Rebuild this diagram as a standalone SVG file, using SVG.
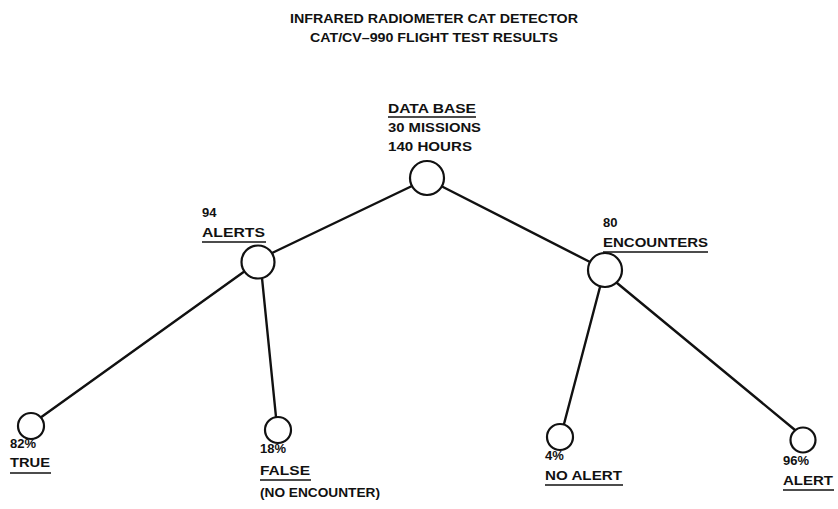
<svg xmlns="http://www.w3.org/2000/svg" width="838" height="509" viewBox="0 0 838 509">
<style>
text{font-family:"Liberation Sans",Arial,sans-serif;font-weight:bold;font-size:13px;fill:#111}
.n circle{fill:#fff;stroke:#111;stroke-width:2.2}
.c line{stroke:#111;stroke-width:2.4;stroke-linecap:round}
.u{stroke:#111;stroke-width:1.6}
</style>
<rect width="838" height="509" fill="#fff"/>
<g id="title">
<text x="434" y="23" text-anchor="middle" textLength="288" lengthAdjust="spacingAndGlyphs">INFRARED RADIOMETER CAT DETECTOR</text>
<text x="434" y="42" text-anchor="middle" textLength="248" lengthAdjust="spacingAndGlyphs">CAT/CV–990 FLIGHT TEST RESULTS</text>
</g>
<g class="c" id="connectors">
<line x1="412" y1="186" x2="272" y2="253"/>
<line x1="443" y1="187" x2="590" y2="262"/>
<line x1="245" y1="271" x2="40" y2="418"/>
<line x1="262" y1="278" x2="276" y2="417"/>
<line x1="600" y1="287" x2="564" y2="424"/>
<line x1="617" y1="283" x2="795" y2="430"/>
</g>
<g class="n" id="database">
<circle cx="427" cy="178" r="17"/>
<text x="388" y="113" textLength="88" lengthAdjust="spacingAndGlyphs">DATA BASE</text>
<line class="u" x1="388" y1="117" x2="476" y2="117"/>
<text x="388" y="132" textLength="93" lengthAdjust="spacingAndGlyphs">30 MISSIONS</text>
<text x="388" y="151" textLength="84" lengthAdjust="spacingAndGlyphs">140 HOURS</text>
</g>
<g class="n" id="alerts">
<circle cx="258" cy="262" r="16.5"/>
<text x="202" y="217">94</text>
<text x="202" y="237" textLength="63" lengthAdjust="spacingAndGlyphs">ALERTS</text>
<line class="u" x1="202" y1="242" x2="266" y2="242"/>
</g>
<g class="n" id="encounters">
<circle cx="605" cy="270" r="17"/>
<text x="603" y="227">80</text>
<text x="603" y="247" textLength="105" lengthAdjust="spacingAndGlyphs">ENCOUNTERS</text>
<line class="u" x1="603" y1="252" x2="708" y2="252"/>
</g>
<g class="n" id="true">
<circle cx="31" cy="426" r="13"/>
<text x="10" y="448">82%</text>
<text x="10" y="467" textLength="40" lengthAdjust="spacingAndGlyphs">TRUE</text>
<line class="u" x1="10" y1="473" x2="51" y2="473"/>
</g>
<g class="n" id="false">
<circle cx="278" cy="430" r="13"/>
<text x="260" y="453">18%</text>
<text x="260" y="475" textLength="50" lengthAdjust="spacingAndGlyphs">FALSE</text>
<line class="u" x1="260" y1="480" x2="311" y2="480"/>
<text x="260" y="497" textLength="120" lengthAdjust="spacingAndGlyphs">(NO ENCOUNTER)</text>
</g>
<g class="n" id="noalert">
<circle cx="560" cy="437" r="13"/>
<text x="545" y="460">4%</text>
<text x="545" y="480" textLength="77" lengthAdjust="spacingAndGlyphs">NO ALERT</text>
<line class="u" x1="545" y1="485" x2="623" y2="485"/>
</g>
<g class="n" id="alert">
<circle cx="803" cy="440" r="12.5"/>
<text x="783" y="465">96%</text>
<text x="783" y="485" textLength="50" lengthAdjust="spacingAndGlyphs">ALERT</text>
<line class="u" x1="783" y1="490" x2="834" y2="490"/>
</g>
</svg>
